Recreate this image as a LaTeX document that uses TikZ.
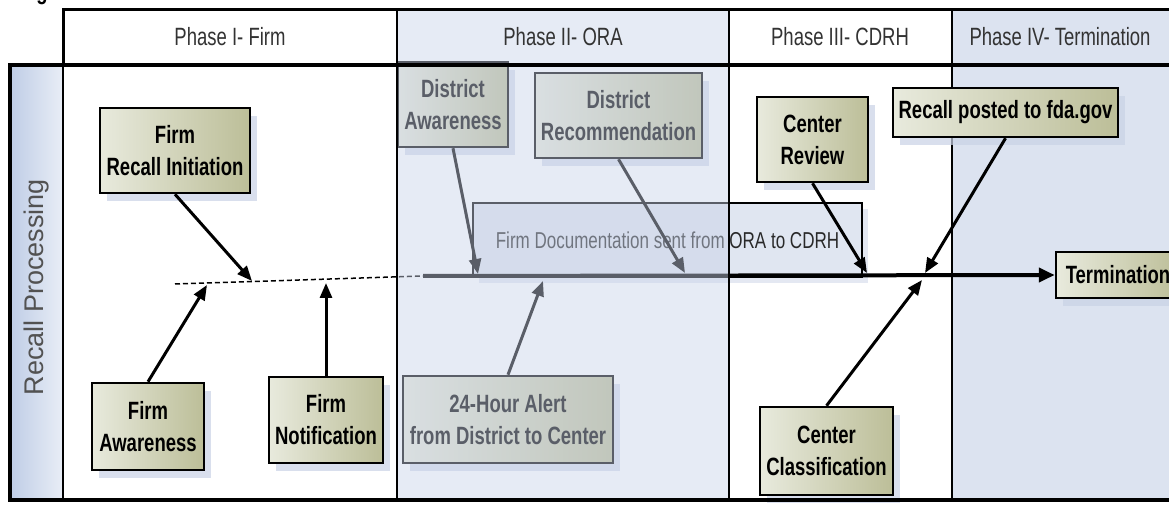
\documentclass[tikz,border=0pt]{standalone}
\usepackage{fontspec}
\setmainfont{Liberation Sans}[FakeStretch=0.74]
\newfontfamily\lanefont{Liberation Sans}
\usetikzlibrary{arrows.meta,shadows}

\definecolor{boxlight}{HTML}{E8EADD}
\definecolor{boxdark}{HTML}{BCBE98}
\definecolor{shadowblue}{HTML}{C9D2E6}
\definecolor{laneblue}{HTML}{BFCDE6}
\definecolor{phaseblue}{HTML}{DCE3F0}
\definecolor{veil}{HTML}{C8D2E8}
\definecolor{docfill}{HTML}{E0E6F1}
\definecolor{headgray}{HTML}{333333}

\tikzset{
  stagebox/.style={draw=black, line width=2.5pt, left color=boxlight, right color=boxdark,
    font=\fontsize{25}{32}\selectfont\bfseries, align=center, inner sep=0pt,
    drop shadow={shadow xshift=7pt, shadow yshift=-8pt, fill=shadowblue, opacity=0.7}},
  flow/.style={line width=3pt, -{Triangle[length=15pt,width=12pt]}},
  phase/.style={font=\fontsize{25}{28}\selectfont, text=headgray},
}

\begin{document}
\begin{tikzpicture}[x=1pt, y=-1pt]
    \useasboundingbox (0,0) rectangle (1169,510);

    % Fundo da fase IV e coluna da raia
    \fill[phaseblue] (952,10) rectangle (1180,500);
    \shade[left color=laneblue, right color=laneblue!35!white] (10,65) rectangle (63,500);
    \draw[line width=2.5pt] (952,10) -- (952,500);
    \node[font=\fontsize{25}{28}\selectfont\bfseries, anchor=base] (fig) at (42,0) {g};

    % Documentacao
    \node[draw=black, line width=2.5pt, fill=docfill, minimum width=389pt, minimum height=74pt,
      inner sep=0pt, font=\fontsize{23}{26}\selectfont, text=headgray!80!black,
      drop shadow={shadow xshift=6pt, shadow yshift=-6pt, fill=shadowblue, opacity=0.5}]
      (doc) at (667.5,240) {Firm Documentation sent from ORA to CDRH};

    % Etapas
    \node[stagebox, minimum width=150pt, minimum height=85pt] (fri) at (175,150.5) {Firm\\Recall Initiation};
    \node[stagebox, minimum width=112pt, minimum height=87pt] (fa) at (148,426.5) {Firm\\Awareness};
    \node[stagebox, minimum width=114pt, minimum height=86pt] (fn) at (326,420) {Firm\\Notification};
    \node[stagebox, minimum width=110pt, minimum height=85pt] (da) at (453,104.5) {District\\Awareness};
    \node[stagebox, minimum width=167pt, minimum height=85pt] (dr) at (618.5,115.5) {District\\Recommendation};
    \node[stagebox, minimum width=210pt, minimum height=87pt] (al) at (508,419.5) {24-Hour Alert\\from District to Center};
    \node[stagebox, minimum width=111pt, minimum height=85pt] (cr) at (812.5,139.5) {Center\\Review};
    \node[stagebox, minimum width=133pt, minimum height=88pt] (cc) at (826.5,451) {Center\\Classification};
    \node[stagebox, minimum width=225pt, minimum height=49pt] (rp) at (1005.5,112.5) {Recall posted to fda.gov};
    \node[stagebox, minimum width=124pt, minimum height=46pt] (term) at (1118,275) {Termination};

    % Linha do tempo
    \coordinate (d0) at (175,284);
    \coordinate (d1) at (423,276);
    \draw[line width=1.5pt, dash pattern=on 5pt off 3pt] (d0) -- (d1);
    \draw[line width=4pt, -{Triangle[length=16pt,width=14pt]}] (d1) -- (term.west);

    % Pontos na linha
    \coordinate (pfa) at (207,285);
    \coordinate (pfri) at (252,281);
    \coordinate (pfn) at (326,283);
    \coordinate (pda) at (478,274);
    \coordinate (pdr) at (685,273);
    \coordinate (pal) at (543,281);
    \coordinate (pcr) at (867,273);
    \coordinate (prp) at (925,273);
    \coordinate (pcc) at (922,280);

    % Setas
    \draw[flow] (fri.south) -- (pfri);
    \draw[flow] (fa.north) -- (pfa);
    \draw[flow] (fn.north) -- (pfn);
    \draw[flow] (da.south) -- (pda);
    \draw[flow] (dr.south) -- (pdr);
    \draw[flow] (al.north) -- (pal);
    \draw[flow] (cr.south) -- (pcr);
    \draw[flow] (rp.south) -- (prp);
    \draw[flow] (cc.north) -- (pcc);

    % Veu da fase II
    \fill[veil, opacity=0.45] (397,10) rectangle (729,500);

    % Grade
    \draw[line width=3pt] (63,10) rectangle (1180,65);
    \draw[line width=3.5pt] (10,65) rectangle (1180,500);
    \draw[line width=2.5pt] (63,10) -- (63,500);
    \draw[line width=2.5pt] (397,10) -- (397,500);
    \draw[line width=2.5pt] (729,10) -- (729,500);

    % Titulos
    \node[phase] (ph1) at (230,37) {Phase I- Firm};
    \node[phase] (ph2) at (563,37) {Phase II- ORA};
    \node[phase] (ph3) at (840,37) {Phase III- CDRH};
    \node[phase] (ph4) at (1060,37) {Phase IV- Termination};
    \node[rotate=90, font=\lanefont\fontsize{27}{30}\selectfont, text=headgray!85!white] (lane) at (37,287) {Recall Processing};

\end{tikzpicture}
\end{document}
